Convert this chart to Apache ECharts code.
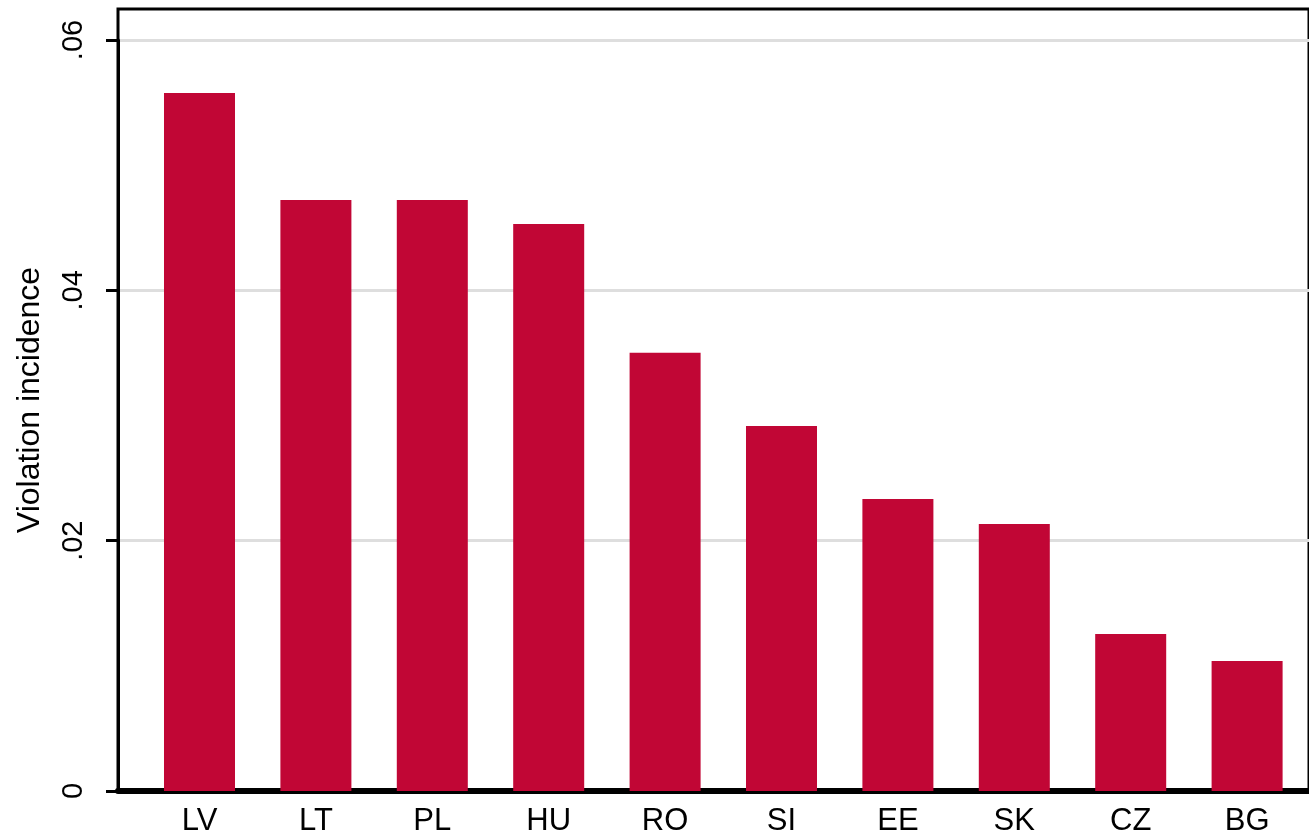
<!DOCTYPE html>
<html>
<head>
<meta charset="utf-8">
<script src="https://cdn.jsdelivr.net/npm/echarts@6/dist/echarts.min.js"></script>
<style>html,body{margin:0;padding:0;background:#fff}#c{width:1309px;height:837px}</style>
</head>
<body>
<div id="c"></div>
<script>
var categories = ['LV', 'LT', 'PL', 'HU', 'RO', 'SI', 'EE', 'SK', 'CZ', 'BG'];
var incidence = [0.05577, 0.04722, 0.04722, 0.04530, 0.03502, 0.02916, 0.02333, 0.02133, 0.01254, 0.01039];
var yTicks = [0, 0.02, 0.04, 0.06];
var yTitle = 'Violation incidence';

var FONT = "'Liberation Sans', Arial, sans-serif";
function fmt(v) {
  if (v === 0) return '0';
  var hit = yTicks.some(function (t) { return Math.abs(t - v) < 1e-9; });
  if (!hit) return '';
  return v.toFixed(2).replace(/^0/, '');
}

var chart = echarts.init(document.getElementById('c'), null, {renderer: 'canvas'});
chart.setOption({
  backgroundColor: '#fff',
  animation: false,
  grid: [
    // axis grid: y axis, gridlines, baseline
    {left: 118, right: -10, top: 40, bottom: 46, containLabel: false},
    // bars grid
    {left: 141.3, right: 3.7, top: 40, bottom: 46, containLabel: false},
    // frame (left + top border) and axis title
    {left: 118, right: -10, top: 9, bottom: 46, show: true, borderColor: '#000', borderWidth: 3, backgroundColor: 'transparent'}
  ],
  xAxis: [
    {gridIndex: 0, type: 'category', data: categories, axisLine: {show: true, lineStyle: {color: '#000', width: 6}},
     axisTick: {show: false}, axisLabel: {show: false}, splitLine: {show: false}},
    {gridIndex: 1, type: 'category', data: categories, axisLine: {show: false}, axisTick: {show: false},
     axisLabel: {show: true, color: '#000', fontFamily: FONT, fontSize: 31, margin: 15}},
    {gridIndex: 2, type: 'category', data: categories, show: false}
  ],
  yAxis: [
    {gridIndex: 0, type: 'value', min: yTicks[0], max: yTicks[yTicks.length - 1], interval: 0.02,
     axisLine: {show: true, lineStyle: {color: '#000', width: 3}},
     axisTick: {show: true, length: 12, lineStyle: {color: '#000', width: 3}},
     axisLabel: {show: true, rotate: 90, color: '#000', fontFamily: FONT, fontSize: 29, margin: 30, formatter: fmt},
     splitLine: {show: true, lineStyle: {color: '#dedede', width: 3}}},
    {gridIndex: 1, type: 'value', min: yTicks[0], max: yTicks[yTicks.length - 1], interval: 0.02, show: false,
     splitLine: {show: false}},
    {gridIndex: 2, type: 'value', min: 0, max: 1, show: true,
     name: yTitle, nameLocation: 'middle', nameGap: 72,
     nameTextStyle: {color: '#000', fontFamily: FONT, fontSize: 32},
     axisLine: {show: false}, axisTick: {show: false}, axisLabel: {show: false}, splitLine: {show: false}}
  ],
  series: [{
    type: 'bar',
    xAxisIndex: 1,
    yAxisIndex: 1,
    data: incidence,
    barWidth: '61%',
    itemStyle: {color: '#c10635'},
    z: 5
  }]
});
</script>
</body>
</html>
